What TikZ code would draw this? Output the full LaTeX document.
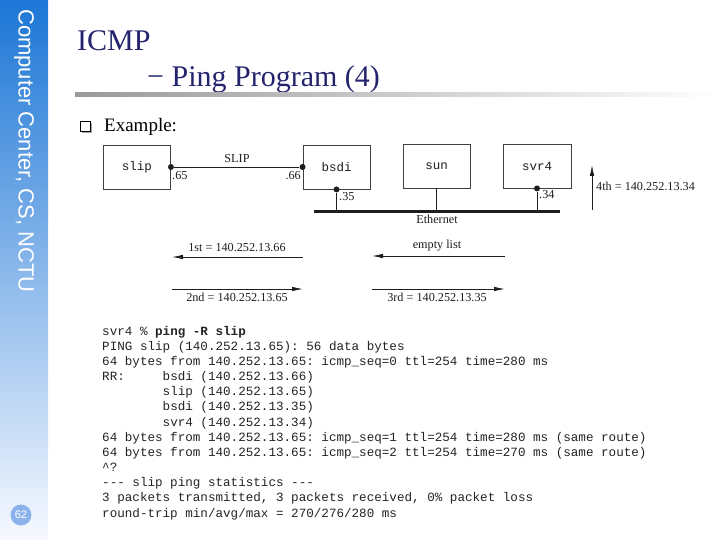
\documentclass[tikz,border=0pt]{standalone}
\usepackage{fontspec}
\setmainfont{Liberation Serif}
\setmonofont{Liberation Mono}
\newfontfamily\sidefont{Liberation Sans}
\usetikzlibrary{arrows.meta}

\definecolor{titleblue}{RGB}{36,36,110}
\definecolor{bandtop}{RGB}{28,118,214}
\definecolor{bandmid}{RGB}{150,182,232}
\definecolor{bandbot}{RGB}{247,249,255}
\definecolor{ink}{RGB}{30,30,30}
\definecolor{codeink}{RGB}{35,35,35}
\definecolor{pagecirc}{RGB}{140,178,236}

\tikzset{
  host/.style={draw=ink!85, line width=0.9pt, minimum width=67pt, minimum height=44pt,
    inner sep=0pt, font=\fontsize{12.5}{12.5}\selectfont\ttfamily, text=ink},
  lbl/.style={inner sep=0pt, font=\fontsize{12.2}{12.2}\selectfont, text=ink},
  link/.style={draw=ink, line width=0.8pt},
  ether/.style={draw=ink, line width=3pt},
  dot/.style={circle, fill=ink, inner sep=0pt, minimum size=6pt},
  route/.style={draw=ink, line width=0.8pt, -{Latex[length=11pt,width=4.5pt]}},
  codeline/.style={anchor=base west, inner sep=0pt, text=codeink,
    font=\fontsize{12.6}{15}\selectfont\ttfamily},
  titletext/.style={anchor=base west, inner sep=0pt, text=titleblue,
    font=\fontsize{30}{30}\selectfont},
}

\begin{document}
\begin{tikzpicture}[x=1pt,y=-1pt]
\useasboundingbox (0,0) rectangle (720,540);

% left band
\shade[top color=bandtop, middle color=bandmid, bottom color=bandbot] (0,0) rectangle (48,540);
\node[rotate=-90, text=white, inner sep=0pt, font=\sidefont\fontsize{22}{22}\selectfont] (band) at (24,151) {Computer Center, CS, NCTU};
\node[circle, fill=pagecirc, minimum size=21pt, inner sep=0pt, text=white, font=\sidefont\fontsize{11}{11}\selectfont] (pg) at (21,515) {62};

% title
\node[titletext] (t1) at (77,51) {ICMP};
\node[titletext] (t2) at (147,87) {\symbol{"2212} Ping Program (4)};
\shade[left color=black!40, right color=white] (75,92.5) rectangle (720,96.5);

% bullet
\fill[black!35] (82,123) rectangle (92,133);
\draw[fill=white, draw=black, line width=0.7pt] (80,121) rectangle (90,131);
\node[anchor=base west, inner sep=0pt, font=\fontsize{19}{19}\selectfont] (ex) at (104,132) {Example:};

% hosts
\node[host] (slip) at (137,167) {slip};
\node[host] (bsdi) at (336.5,167) {bsdi};
\node[host] (sun)  at (436.5,166) {sun};
\node[host, minimum width=68pt] (svr4) at (537,166) {svr4};

% ethernet
\coordinate (eL) at (314,211.5);
\coordinate (eR) at (560,211.5);
\draw[ether] (eL) -- (eR);
\node[lbl] (eth) at (437,219) {Ethernet};

% interfaces
\node[dot] (d65) at (slip.east) {};
\node[dot] (d66) at (bsdi.west) {};
\node[dot] (d35) at (bsdi.south) {};
\node[dot] (d34) at (svr4.south) {};
\draw[link] (d65) -- (d66);
\node[lbl] (slipl) at (237,159) {SLIP};
\node[lbl, anchor=west] (l65) at (172,176) {.65};
\node[lbl, anchor=east] (l66) at (301,176) {.66};
\node[lbl, anchor=west] (l35) at (339,197) {.35};
\node[lbl, anchor=west] (l34) at (539,195) {.34};
\draw[link] (d35) -- (d35 |- eL);
\draw[link] (sun.south) -- (sun.south |- eL);
\draw[link] (d34) -- (d34 |- eL);

% route arrows
\coordinate (a1s) at (303,257); \coordinate (a1e) at (172,257);
\draw[route] (a1s) -- (a1e);
\node[lbl] (a1l) at (237,248) {1st = 140.252.13.66};

\coordinate (a0s) at (505,256); \coordinate (a0e) at (372,256);
\draw[route] (a0s) -- (a0e);
\node[lbl] (a0l) at (437,246) {empty list};

\coordinate (a2s) at (172,289); \coordinate (a2e) at (303,289);
\draw[route] (a2s) -- (a2e);
\node[lbl] (a2l) at (237,297.5) {2nd = 140.252.13.65};

\coordinate (a3s) at (372,289); \coordinate (a3e) at (505,289);
\draw[route] (a3s) -- (a3e);
\node[lbl] (a3l) at (437,297.5) {3rd = 140.252.13.35};

\coordinate (a4s) at (592,210); \coordinate (a4e) at (592,165);
\draw[route] (a4s) -- (a4e);
\node[lbl, anchor=west] (a4l) at (596,186) {4th = 140.252.13.34};

% program output
\node[codeline] (c1)  at (102,335.0) {svr4 \% \textbf{ping -R slip}};
\node[codeline] (c2)  at (102,350.2) {PING slip (140.252.13.65): 56 data bytes};
\node[codeline] (c3)  at (102,365.3) {64 bytes from 140.252.13.65: icmp\_seq=0 ttl=254 time=280 ms};
\node[codeline] (c4)  at (102,380.5) {RR:\ \ \ \ \ bsdi (140.252.13.66)};
\node[codeline] (c5)  at (102,395.7) {\ \ \ \ \ \ \ \ slip (140.252.13.65)};
\node[codeline] (c6)  at (102,410.9) {\ \ \ \ \ \ \ \ bsdi (140.252.13.35)};
\node[codeline] (c7)  at (102,426.0) {\ \ \ \ \ \ \ \ svr4 (140.252.13.34)};
\node[codeline] (c8)  at (102,441.2) {64 bytes from 140.252.13.65: icmp\_seq=1 ttl=254 time=280 ms (same route)};
\node[codeline] (c9)  at (102,456.4) {64 bytes from 140.252.13.65: icmp\_seq=2 ttl=254 time=270 ms (same route)};
\node[codeline] (c10) at (102,471.5) {\textasciicircum?};
\node[codeline] (c11) at (102,486.7) {--{}- slip ping statistics --{}-};
\node[codeline] (c12) at (102,501.9) {3 packets transmitted, 3 packets received, 0\% packet loss};
\node[codeline] (c13) at (102,517.0) {round-trip min/avg/max = 270/276/280 ms};
\end{tikzpicture}
\end{document}
